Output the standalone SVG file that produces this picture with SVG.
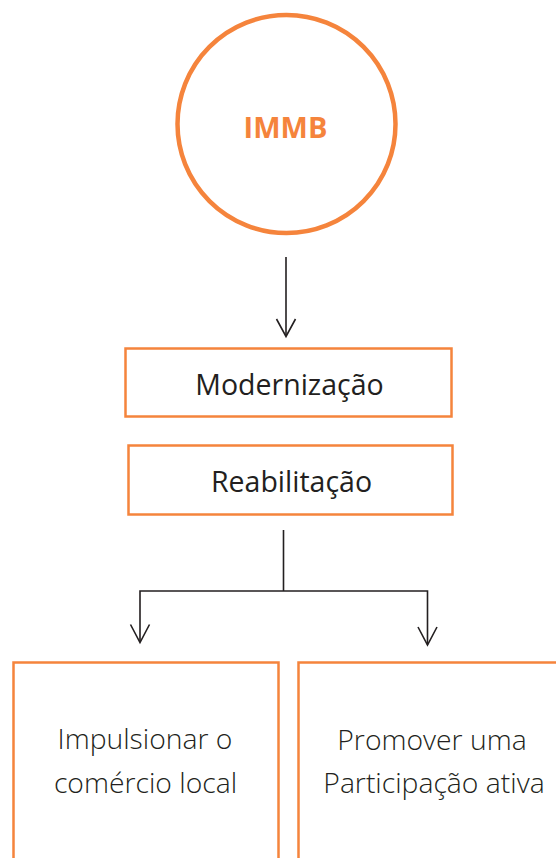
<svg xmlns="http://www.w3.org/2000/svg" width="556" height="858" viewBox="0 0 556 858">
  <defs>
    <style>
      .frame { fill: #ffffff; stroke: #F5843C; stroke-width: 2.5; }
      .ring { fill: #ffffff; stroke: #F5843C; stroke-width: 4.5; }
      .link { fill: none; stroke: #231F20; stroke-width: 1.6; }
      .head { fill: none; stroke: #231F20; stroke-width: 1.6; stroke-linejoin: miter; }
      .title { font-family: "Open Sans", "DejaVu Sans", sans-serif; font-weight: 700; font-size: 29px; fill: #F5843C; text-anchor: middle; }
      .label { font-family: "Open Sans", "DejaVu Sans", sans-serif; font-weight: 400; font-size: 28.5px; fill: #231F20; text-anchor: middle; }
      .soft { font-family: "Open Sans", "DejaVu Sans", sans-serif; font-weight: 300; font-size: 28.3px; fill: #231F20; text-anchor: middle; }
    </style>
  </defs>
  <rect width="556" height="858" fill="#ffffff"/>

  <!-- connectors -->
  <g id="connectors">
    <path class="link" d="M286 257 V336"/>
    <path class="head" d="M276.5 319 L286 336.5 L295.5 319"/>
    <path class="link" d="M283.5 530 V591 M140 591 H427.5 M140 590.2 V642 M427.5 590.2 V644.5"/>
    <path class="head" d="M130.5 624.5 L140 642.5 L149.5 624.5"/>
    <path class="head" d="M418 627 L427.5 645 L437 627"/>
  </g>

  <!-- root circle -->
  <g id="node-immb">
    <circle class="ring" cx="286.5" cy="124" r="109"/>
    <text class="title" x="285.5" y="138">IMMB</text>
  </g>

  <g id="node-modernizacao">
    <rect class="frame" x="125.5" y="348.5" width="326" height="68"/>
    <text class="label" x="289.5" y="395">Modernização</text>
  </g>

  <g id="node-reabilitacao">
    <rect class="frame" x="128.5" y="445.5" width="324" height="69"/>
    <text class="label" x="291.5" y="492">Reabilitação</text>
  </g>

  <g id="node-comercio">
    <rect class="frame" x="13.5" y="662.5" width="265" height="220"/>
    <text class="soft" x="145" y="749">Impulsionar o</text>
    <text class="soft" x="145.5" y="793">comércio local</text>
  </g>

  <g id="node-participacao">
    <rect class="frame" x="298.5" y="662.5" width="265" height="220"/>
    <text class="soft" x="432" y="750">Promover uma</text>
    <text class="soft" x="434" y="793">Participação ativa</text>
  </g>
</svg>
